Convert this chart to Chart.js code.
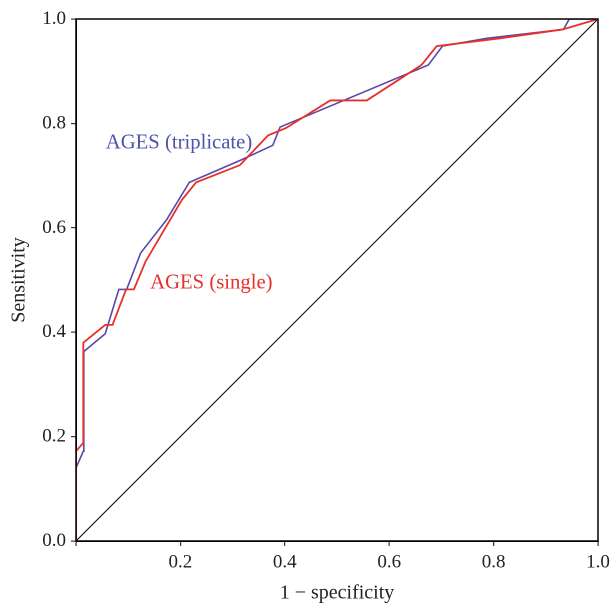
<!DOCTYPE html>
<html>
<head>
<meta charset="utf-8">
<script src="https://cdn.jsdelivr.net/npm/chart.js@4"></script>
<style>
  html, body { margin: 0; padding: 0; background: #ffffff; }
  #wrap { position: relative; width: 610px; height: 603px; }
</style>
</head>
<body>
<div id="wrap"><canvas id="c"></canvas></div>
<script>
// ---- Data ----
const xTickValues = [0, 0.2, 0.4, 0.6, 0.8, 1.0];
const yTickValues = [0, 0.2, 0.4, 0.6, 0.8, 1.0];

// AGES (triplicate): 1 - specificity / sensitivity
const tripFpr  = [0, 0,     0.014, 0.015, 0.056, 0.082, 0.097, 0.124, 0.174, 0.217, 0.314, 0.377, 0.391, 0.675, 0.702, 0.787, 0.934, 0.945, 1.0];
const tripSens = [0, 0.140, 0.172, 0.363, 0.397, 0.482, 0.482, 0.552, 0.616, 0.687, 0.729, 0.758, 0.793, 0.912, 0.948, 0.963, 0.980, 1.0,   1.0];

// AGES (single)
const singFpr  = [0, 0,     0.014, 0.014, 0.056, 0.070, 0.096, 0.111, 0.133, 0.2025, 0.230, 0.314, 0.368, 0.402, 0.487, 0.557, 0.662, 0.691, 0.812, 0.932, 1.0];
const singSens = [0, 0.172, 0.188, 0.380, 0.414, 0.414, 0.482, 0.482, 0.535, 0.653,  0.687, 0.720, 0.777, 0.791, 0.844, 0.844, 0.912, 0.948, 0.963, 0.980, 1.0];

// Reference diagonal
const diagX = [0, 1];
const diagY = [0, 1];

const seriesNames = ['AGES (triplicate)', 'AGES (single)'];

function toPoints(xs, ys) { return xs.map((x, i) => ({ x: x, y: ys[i] })); }

const BLUE_LINE = '#5a48a8';
const RED_LINE = '#e6302a';
const BLUE_TEXT = '#4f52ad';
const RED_TEXT = '#e6302a';
const TICK_COLOR = '#5a2a20';
const FONT = "'Liberation Serif', 'DejaVu Serif', serif";

const boxPlugin = {
  id: 'box',
  afterDatasetsDraw(chart) {
    const a = chart.chartArea, ctx = chart.ctx;
    ctx.save();
    ctx.strokeStyle = '#000';
    ctx.lineWidth = 1.5;
    ctx.strokeRect(a.left, a.top, a.right - a.left, a.bottom - a.top);
    ctx.restore();
  }
};

const labelPlugin = {
  id: 'seriesLabels',
  afterDatasetsDraw(chart, args, opts) {
    const ctx = chart.ctx, xs = chart.scales.x, ys = chart.scales.y;
    ctx.save();
    ctx.font = opts.font;
    ctx.textAlign = 'left';
    ctx.textBaseline = 'middle';
    opts.items.forEach(it => {
      ctx.fillStyle = it.color;
      ctx.fillText(it.text, xs.getPixelForValue(it.x), ys.getPixelForValue(it.y));
    });
    ctx.restore();
  }
};

new Chart(document.getElementById('c'), {
  type: 'scatter',
  data: {
    datasets: [
      {
        label: 'diagonal',
        data: toPoints(diagX, diagY),
        showLine: true, borderColor: '#000', borderWidth: 1,
        pointRadius: 0, order: 3
      },
      {
        label: seriesNames[0],
        data: toPoints(tripFpr, tripSens),
        showLine: true, borderColor: BLUE_LINE, borderWidth: 1.6,
        pointRadius: 0, order: 2
      },
      {
        label: seriesNames[1],
        data: toPoints(singFpr, singSens),
        showLine: true, borderColor: RED_LINE, borderWidth: 1.8,
        pointRadius: 0, order: 1
      }
    ]
  },
  options: {
    responsive: true,
    maintainAspectRatio: false,
    animation: false,
    devicePixelRatio: 2,
    layout: { padding: { top: 19, right: 12, left: 0, bottom: 0 } },
    plugins: {
      legend: { display: false },
      tooltip: { enabled: false },
      seriesLabels: {
        font: "20.7px " + FONT,
        items: [
          { text: seriesNames[0], x: 0.057, y: 0.762, color: BLUE_TEXT },
          { text: seriesNames[1], x: 0.142, y: 0.494, color: RED_TEXT }
        ]
      }
    },
    scales: {
      x: {
        type: 'linear', min: 0, max: 1,
        afterBuildTicks: s => { s.ticks = xTickValues.map(v => ({ value: v })); },
        afterFit: s => { s.height = 62; s.paddingLeft = 0; s.paddingRight = 0; },
        ticks: {
          color: '#222', font: { family: FONT, size: 19 }, padding: 5,
          maxRotation: 0, autoSkip: false,
          callback: v => v === 0 ? '' : Number(v).toFixed(1)
        },
        grid: { display: true, drawOnChartArea: false, drawTicks: true, tickLength: 5, color: TICK_COLOR, lineWidth: 1.2 },
        border: { display: true, color: '#000', width: 1.5 },
        title: { display: true, text: '1 \u2212 specificity', color: '#222', font: { family: FONT, size: 20, lineHeight: 1.0 }, padding: { top: 0, bottom: 0 } }
      },
      y: {
        type: 'linear', min: 0, max: 1,
        afterBuildTicks: s => { s.ticks = yTickValues.map(v => ({ value: v })); },
        afterFit: s => { s.width = 76; s.paddingTop = 0; s.paddingBottom = 0; },
        ticks: {
          color: '#222', font: { family: FONT, size: 19 }, padding: 5,
          autoSkip: false,
          callback: v => Number(v).toFixed(1)
        },
        grid: { display: true, drawOnChartArea: false, drawTicks: true, tickLength: 5, color: TICK_COLOR, lineWidth: 1.2 },
        border: { display: true, color: '#000', width: 1.5 },
        title: { display: true, text: 'Sensitivity', color: '#222', font: { family: FONT, size: 20, lineHeight: 1.0 }, padding: { top: 9, bottom: 0 } }
      }
    }
  },
  plugins: [boxPlugin, labelPlugin]
});
</script>
</body>
</html>
